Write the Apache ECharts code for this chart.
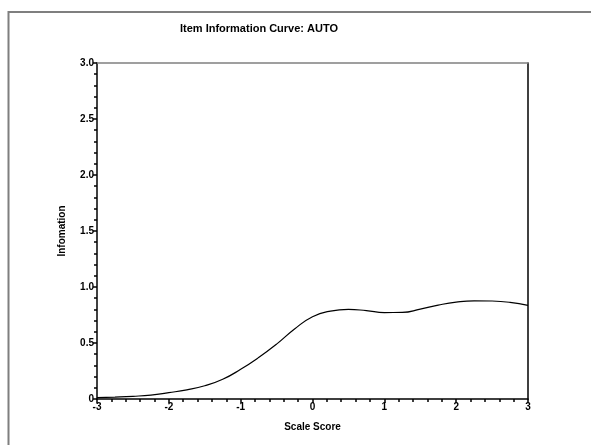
<!DOCTYPE html>
<html>
<head>
<meta charset="utf-8">
<script src="https://cdn.jsdelivr.net/npm/echarts@6/dist/echarts.min.js"></script>
<style>html,body{margin:0;padding:0;background:#fff;}#c{width:591px;height:445px;}</style>
</head>
<body>
<div id="c"></div>
<script>
const scaleScore = [-3,-2.75,-2.5,-2.25,-2,-1.75,-1.5,-1.25,-1,-0.75,-0.5,-0.25,0,0.25,0.5,0.75,1,1.25,1.5,1.75,2,2.25,2.5,2.75,3];
const information = [0.012,0.017,0.024,0.035,0.057,0.082,0.118,0.176,0.265,0.37,0.49,0.625,0.735,0.785,0.80,0.789,0.772,0.773,0.802,0.838,0.865,0.877,0.875,0.863,0.836];
const titleText = 'Item Information Curve: AUTO';
const xName = 'Scale Score';
const yName = 'Infomation';

const chart = echarts.init(document.getElementById('c'), null, {renderer: 'canvas'});
const font = 'Liberation Sans, Arial, sans-serif';
const pts = scaleScore.map((x, i) => [x, information[i]]);
chart.setOption({
  animation: false,
  backgroundColor: '#fff',
  title: {
    text: titleText, left: 254, top: 18, textAlign: 'center',
    textStyle: {fontFamily: font, fontSize: 11, fontWeight: 'bold', color: '#000'}
  },
  grid: {left: 97, right: 63, top: 63, bottom: 46},
  graphic: [{
    type: 'rect', shape: {x: 8.5, y: 12, width: 700, height: 500},
    style: {fill: 'none', stroke: '#7f7f7f', lineWidth: 2}, silent: true
  }],
  xAxis: [{
    type: 'value', min: -3, max: 3, interval: 1,
    name: xName, nameLocation: 'middle', nameGap: 23,
    nameTextStyle: {fontFamily: font, fontSize: 10, fontWeight: 'bold', color: '#000'},
    axisLine: {onZero: false, lineStyle: {color: '#000', width: 1.5}},
    axisTick: {length: 4, lineStyle: {color: '#000', width: 1.5}},
    minorTick: {show: true, splitNumber: 5, length: 3, lineStyle: {color: '#000', width: 1.5}},
    splitLine: {show: false},
    axisLabel: {fontFamily: font, fontSize: 10, fontWeight: 'bold', color: '#000', margin: 3}
  }, {
    type: 'value', min: -3, max: 3, position: 'top',
    axisLine: {show: true, onZero: false, lineStyle: {color: '#808080', width: 1.5}},
    axisTick: {show: false}, axisLabel: {show: false}, splitLine: {show: false}
  }],
  yAxis: [{
    type: 'value', min: 0, max: 3, interval: 0.5,
    name: yName, nameLocation: 'middle', nameGap: 30,
    nameTextStyle: {fontFamily: font, fontSize: 10, fontWeight: 'bold', color: '#000'},
    axisLine: {show: true, onZero: false, lineStyle: {color: '#000', width: 1.5}},
    axisTick: {show: true, length: 4, lineStyle: {color: '#000', width: 1.5}},
    minorTick: {show: true, splitNumber: 5, length: 3, lineStyle: {color: '#000', width: 1.5}},
    splitLine: {show: false},
    axisLabel: {fontFamily: font, fontSize: 10, fontWeight: 'bold', color: '#000', margin: 3,
      formatter: v => v === 0 ? '0' : v.toFixed(1)}
  }, {
    type: 'value', min: 0, max: 3, position: 'right',
    axisLine: {show: true, onZero: false, lineStyle: {color: '#000', width: 1.5}},
    axisTick: {show: false}, axisLabel: {show: false}, splitLine: {show: false}
  }],
  series: [{
    type: 'line', data: pts, smooth: 0.5, showSymbol: false,
    lineStyle: {color: '#000', width: 1.2}
  }]
});
</script>
</body>
</html>
